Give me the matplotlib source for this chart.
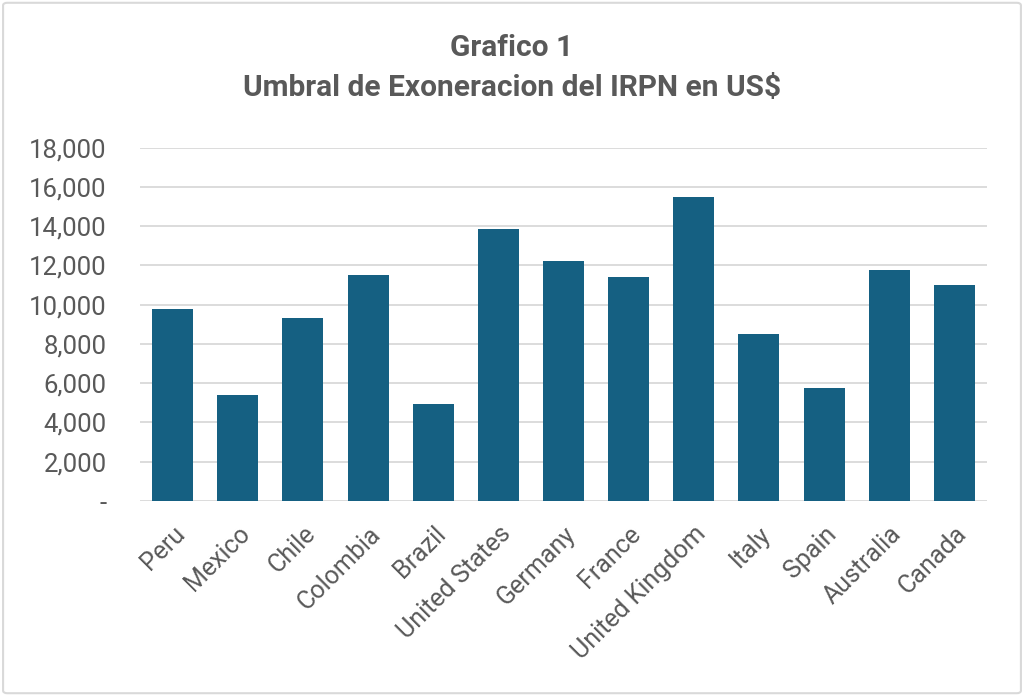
import matplotlib
matplotlib.use("Agg")
import matplotlib.pyplot as plt
from matplotlib.ticker import FuncFormatter
from matplotlib.patches import FancyBboxPatch

countries = ["Peru", "Mexico", "Chile", "Colombia", "Brazil", "United States",
             "Germany", "France", "United Kingdom", "Italy", "Spain",
             "Australia", "Canada"]
values = [9800, 5400, 9300, 11500, 4950, 13850, 12250, 11400, 15500,
          8500, 5750, 11750, 11000]
yticks = [0, 2000, 4000, 6000, 8000, 10000, 12000, 14000, 16000, 18000]
title_lines = ["Grafico 1", "Umbral de Exoneracion del IRPN en US$"]

TEXT = "#595959"
BAR = "#156082"
GRID = "#D9D9D9"

plt.rcParams['font.family'] = ['Roboto', 'DejaVu Sans']

fig = plt.figure(figsize=(10.24, 6.96), dpi=100)
ax = fig.add_axes([140/1024, 1-501/696, (987-140)/1024, (501-147.7)/696])

x = list(range(len(countries)))
ax.bar(x, values, width=0.63, color=BAR, zorder=3)
ax.set_xlim(-0.5, len(countries)-0.5)
ax.set_ylim(0, 18000)
ax.set_yticks(yticks)
ax.yaxis.set_major_formatter(FuncFormatter(lambda v, p: "-" if v == 0 else f"{v:,.0f}"))
ax.grid(axis='y', color=GRID, linewidth=1.3, zorder=0)
for s in ax.spines.values():
    s.set_visible(False)
ax.tick_params(axis='both', length=0, colors=TEXT)
ax.tick_params(axis='y', pad=24, labelsize=18.5)
ax.set_xticks(x)
ax.set_xticklabels(countries, rotation=45, ha='right', rotation_mode='anchor')
ax.tick_params(axis='x', pad=15, labelsize=18)

fig.text(0.5, 1-48/696, title_lines[0], ha='center', va='center',
         fontsize=21.5, fontweight='bold', color=TEXT)
fig.text(0.5, 1-88/696, title_lines[1], ha='center', va='center',
         fontsize=21.5, fontweight='bold', color=TEXT)

border = FancyBboxPatch((0.003, 0.004), 0.994, 0.992, boxstyle="round,pad=0,rounding_size=0.004",
                        transform=fig.transFigure, fill=False, edgecolor=GRID, linewidth=1.5)
fig.patches.append(border)

fig.savefig("out.png", dpi=100, facecolor="white")
